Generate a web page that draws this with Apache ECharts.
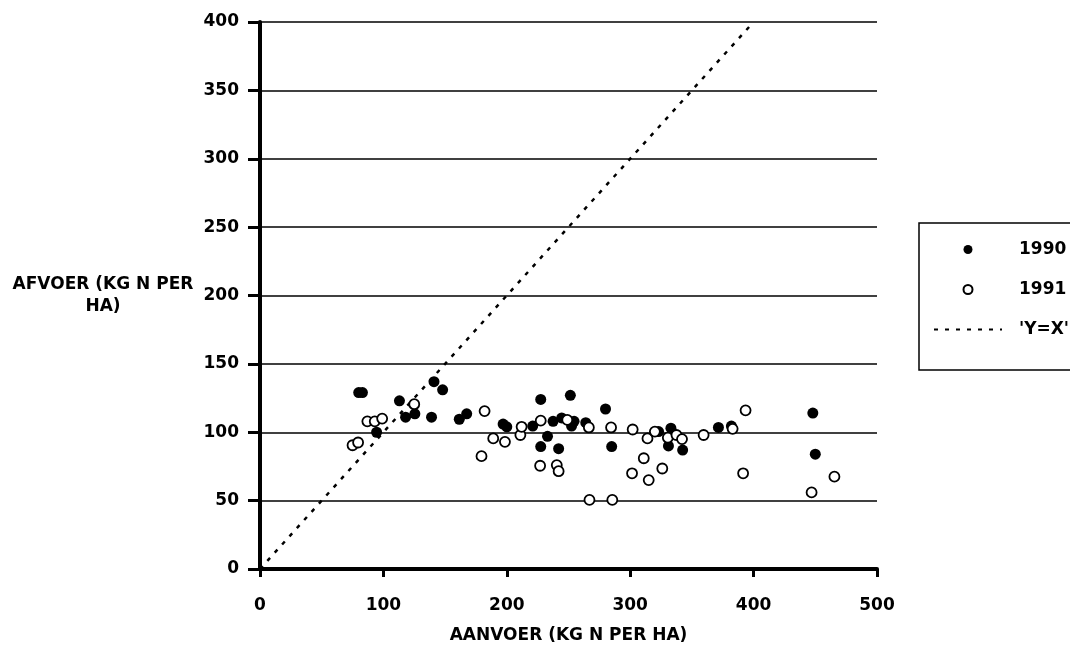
<!DOCTYPE html>
<html>
<head>
<meta charset="utf-8">
<script src="https://cdn.jsdelivr.net/npm/echarts@6/dist/echarts.min.js"></script>
<style>
  html, body { margin: 0; padding: 0; background: #fff; }
  #chart { width: 1070px; height: 649px; }
</style>
</head>
<body>
<div id="chart"></div>
<script>
// aanvoer (x) en afvoer (y), kg N per ha
const data1990 = [
  [80, 129], [83, 129], [94.5, 100], [113, 123], [118, 111], [125.5, 113.5],
  [139, 111], [141, 137], [148, 131], [161.5, 109.5], [167.5, 113.5],
  [197, 106], [200, 104], [221, 104.5], [227.5, 124], [227.5, 89.5],
  [233, 97], [237.5, 108], [242, 88], [244.5, 110.5], [251.5, 127],
  [252.5, 104.5], [254.5, 108], [264, 107], [280, 117], [285, 89.5],
  [323, 100.5], [333, 103], [331, 90], [342.5, 87], [371.5, 103.5],
  [382, 104.5], [448, 114], [450, 84]
];
const data1991 = [
  [75, 90.5], [79.5, 92.5], [87, 108], [93, 108], [99, 110], [125, 120.5],
  [179.5, 82.5], [182, 115.5], [189, 95.5], [198.5, 93], [211, 98],
  [212, 104], [227, 75.5], [227.5, 108.5], [240.5, 76], [242, 71.5],
  [249, 109], [266.5, 103.5], [267, 50.5], [284.5, 103.5], [285.5, 50.5],
  [301.5, 70], [302, 102], [311, 81], [314, 95.5], [315, 65],
  [320, 100.5], [326, 73.5], [330.5, 96], [337.5, 98], [342, 95],
  [359.5, 98], [383, 102.5], [391.5, 70], [393.5, 116], [447, 56],
  [465.5, 67.5]
];
const identityLine = [[0, 0], [400, 400]];
const seriesNames = ["1990", "1991", "'Y=X'"];

const font = "DejaVu Sans";
const boldText = { fontFamily: font, fontWeight: "bold", fontSize: 17, color: "#000" };

const chart = echarts.init(document.getElementById("chart"));
const option = {
  animation: false,
  textStyle: { fontFamily: font },
  grid: { left: 260, right: 193, top: 22, bottom: 79 },
  legend: {
    orient: "vertical",
    left: 919,
    top: 223,
    padding: [18, 20, 32, 14],
    itemGap: 23,
    itemWidth: 68,
    itemHeight: 9,
    borderColor: "#000",
    borderWidth: 1.5,
    data: seriesNames,
    textStyle: Object.assign({}, boldText, { lineHeight: 17, padding: [0, 0, 0, 12] })
  },
  xAxis: {
    type: "value",
    min: 0,
    max: 500,
    interval: 100,
    name: "AANVOER (KG N PER HA)",
    nameLocation: "middle",
    nameGap: 58,
    nameTextStyle: boldText,
    axisLine: { lineStyle: { color: "#000", width: 4 } },
    axisTick: { length: 8, lineStyle: { color: "#000", width: 3 } },
    axisLabel: Object.assign({ margin: 28 }, boldText),
    splitLine: { show: false }
  },
  yAxis: {
    type: "value",
    min: 0,
    max: 400,
    interval: 50,
    name: "AFVOER (KG N PER\nHA)",
    nameLocation: "middle",
    nameRotate: 0,
    nameGap: 157,
    nameTextStyle: Object.assign({}, boldText, {
      align: "center", verticalAlign: "middle", lineHeight: 22, padding: [0, 0, 10, 0]
    }),
    axisLine: { show: true, lineStyle: { color: "#000", width: 4 } },
    axisTick: { show: true, length: 12, lineStyle: { color: "#000", width: 3 } },
    axisLabel: Object.assign({ margin: 21 }, boldText),
    splitLine: { lineStyle: { color: "#000", width: 1.5 } }
  },
  series: [
    {
      name: seriesNames[0],
      type: "scatter",
      data: data1990,
      symbol: "circle",
      symbolSize: 11,
      itemStyle: { color: "#000", opacity: 1 },
      z: 3
    },
    {
      name: seriesNames[1],
      type: "scatter",
      data: data1991,
      symbol: "circle",
      symbolSize: 10,
      itemStyle: { color: "#fff", borderColor: "#000", borderWidth: 1.8, opacity: 1 },
      z: 4
    },
    {
      name: seriesNames[2],
      type: "line",
      data: identityLine,
      symbol: "none",
      silent: true,
      itemStyle: { color: "rgba(0,0,0,0)" },
      lineStyle: { color: "#000", width: 2.5, type: [4, 7] },
      z: 2
    }
  ]
};
chart.setOption(option);
</script>
</body>
</html>
